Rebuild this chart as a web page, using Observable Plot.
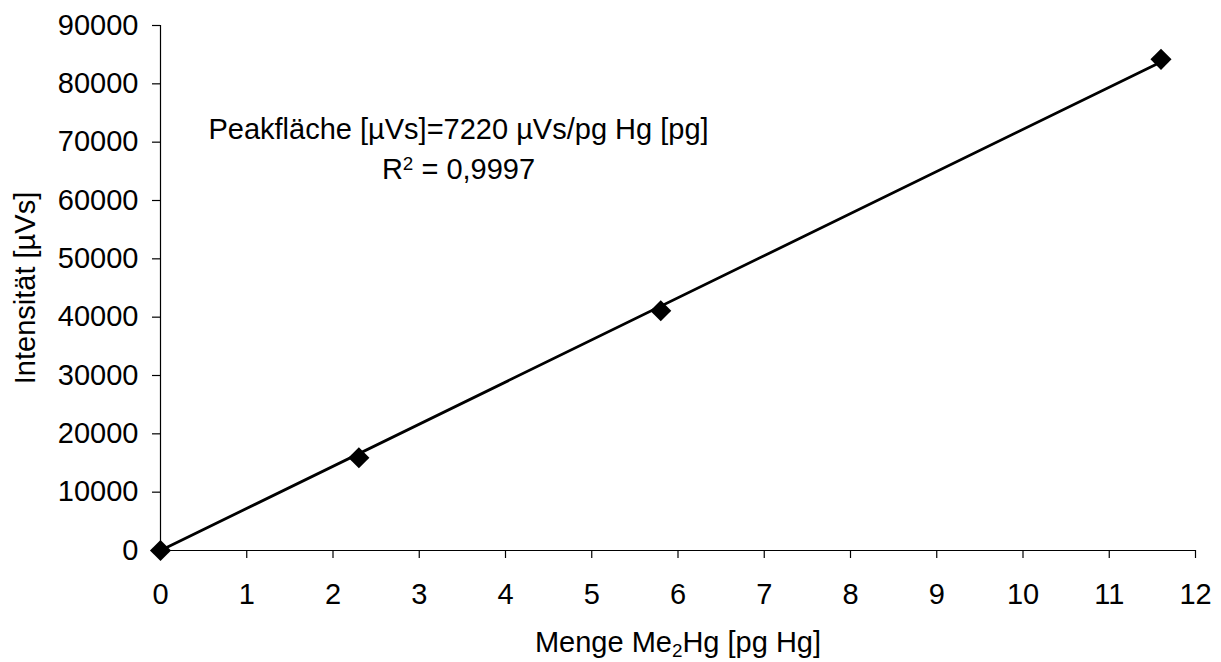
<!DOCTYPE html>
<html>
<head>
<meta charset="utf-8">
<script src="https://cdn.jsdelivr.net/npm/d3@7"></script>
<script src="https://cdn.jsdelivr.net/npm/@observablehq/plot@0.6"></script>
<style>
  html, body { margin: 0; padding: 0; background: #fff; }
  svg { display: block; }
</style>
</head>
<body>
<div id="chart"></div>
<script>
// Data
const mengePgHg = [0, 2.3, 5.8, 11.6];
const intensitaet = [0, 15900, 41100, 84200];
const slope = 7220; // µVs/pg Hg (trendline through origin)
const trendX = [0, 11.6];
const xTicks = [0,1,2,3,4,5,6,7,8,9,10,11,12];
const yTicks = [0,10000,20000,30000,40000,50000,60000,70000,80000,90000];
const equationText = "Peakfläche [µVs]=7220 µVs/pg Hg [pg]";
const r2Text = "R2 = 0,9997";
const xLabel = "Menge Me2Hg [pg Hg]";
const yLabel = "Intensität [µVs]";

const points = mengePgHg.map((x, i) => ({x, y: intensitaet[i]}));
const trend = trendX.map(x => ({x, y: slope * x}));

const font = "Arial, 'Liberation Sans', sans-serif";
const fs = 29;

const chart = Plot.plot({
  width: 1221,
  height: 662,
  marginLeft: 160,
  marginRight: 26,
  marginTop: 25,
  marginBottom: 112,
  style: {fontFamily: font, fontSize: fs + "px", color: "#000", background: "#fff"},
  x: {domain: [0, 12], ticks: xTicks, label: null},
  y: {domain: [0, 90000], ticks: yTicks, label: null},
  marks: [
    Plot.axisX({ticks: xTicks, tickSize: 8, tickPadding: 25, fontSize: fs, label: null, stroke: "#000", strokeWidth: 1.2}),
    Plot.axisY({ticks: yTicks, tickSize: 8, tickPadding: 14, fontSize: fs, label: null, tickFormat: d => String(d), stroke: "#000", strokeWidth: 1.2}),
    Plot.ruleX([0], {stroke: "#000", strokeWidth: 1.2}),
    Plot.ruleY([0], {stroke: "#000", strokeWidth: 1.2}),
    Plot.line(trend, {x: "x", y: "y", stroke: "#000", strokeWidth: 2.8}),
    Plot.dot(points, {x: "x", y: "y", symbol: "diamond2", r: 9.5, fill: "#000", stroke: "none"}),
    Plot.text([equationText], {frameAnchor: "top-left", dx: 298, dy: 104, lineAnchor: "middle", text: d => d, textAnchor: "middle", fontSize: fs, fill: "#000"}),
    Plot.text([r2Text], {frameAnchor: "top-left", dx: 298, dy: 144, lineAnchor: "middle", text: d => d, textAnchor: "middle", fontSize: fs, fill: "#000"}),
    Plot.text([xLabel], {frameAnchor: "bottom", dy: 92, lineAnchor: "middle", text: d => d, textAnchor: "middle", fontSize: fs, fill: "#000"}),
    Plot.text([yLabel], {frameAnchor: "left", dx: -135, lineAnchor: "middle", rotate: -90, text: d => d, textAnchor: "middle", fontSize: fs, fill: "#000"})
  ]
});

// Rich text: superscript and subscript
d3.select(chart).selectAll("text").each(function() {
  const t = this.textContent;
  if (t === r2Text) {
    const el = d3.select(this);
    el.text(null);
    el.append("tspan").text("R");
    el.append("tspan").attr("dy", "-0.45em").attr("font-size", "0.65em").text("2");
    el.append("tspan").attr("dy", "0.29em").text(" = 0,9997");
  } else if (t === xLabel) {
    const el = d3.select(this);
    el.text(null);
    el.append("tspan").text("Menge Me");
    el.append("tspan").attr("dy", "0.3em").attr("font-size", "0.65em").text("2");
    el.append("tspan").attr("dy", "-0.195em").text("Hg [pg Hg]");
  }
});

document.getElementById("chart").appendChild(chart);
</script>
</body>
</html>
